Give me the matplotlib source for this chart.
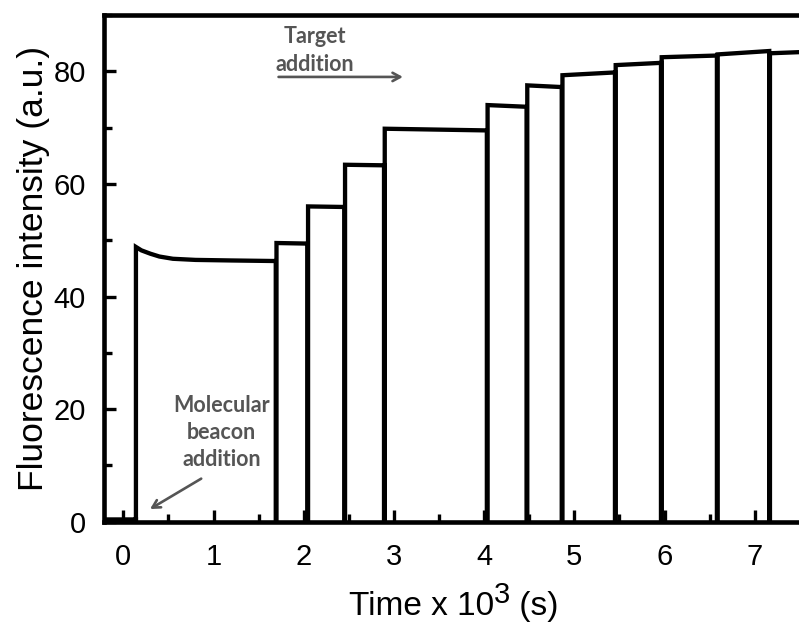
import matplotlib
matplotlib.use("Agg")
import matplotlib.pyplot as plt
from matplotlib.ticker import MultipleLocator

plt.rcParams['font.family'] = ['Liberation Sans', 'DejaVu Sans']

# Data (time in 10^3 s, intensity in a.u.)
baseline_start = -0.21
baseline_level = 0.4
first_decay_t = [0.14, 0.2, 0.3, 0.4, 0.55, 0.8, 1.2, 1.69]
first_decay_y = [48.8, 48.2, 47.6, 47.1, 46.7, 46.5, 46.4, 46.3]
step_times = [1.69, 2.04, 2.45, 2.89, 4.03, 4.47, 4.86, 5.45, 5.96, 6.58, 7.16]
seg_end_times = [2.04, 2.45, 2.89, 4.03, 4.47, 4.86, 5.45, 5.96, 6.58, 7.16, 7.49]
level_start = [49.5, 56.0, 63.4, 69.8, 74.0, 77.5, 79.3, 81.1, 82.5, 83.0, 83.2]
level_end = [49.4, 55.9, 63.3, 69.5, 73.7, 77.2, 79.8, 81.5, 82.8, 83.6, 83.4]

# Build the trace path
t = [baseline_start, first_decay_t[0], first_decay_t[0]]
y = [baseline_level, baseline_level, 0.0]
t += first_decay_t
y += first_decay_y
for ts, te, ys, ye in zip(step_times, seg_end_times, level_start, level_end):
    t += [ts, ts + 0.008, ts + 0.008, te]
    y += [0.0, 0.0, ys, ye]

W, H = 799, 622
fig = plt.figure(figsize=(W / 100, H / 100), dpi=100)
ax = fig.add_axes([104 / W, 1 - 521.7 / H, 1 - 104 / W, (521.7 - 15) / H])
ax.plot(t, y, color='black', lw=3.1, solid_joinstyle='miter')

ax.set_xlim(-0.214, 7.49)
ax.set_ylim(0, 90)
ax.xaxis.set_major_locator(MultipleLocator(1))
ax.xaxis.set_minor_locator(MultipleLocator(0.5))
ax.yaxis.set_major_locator(MultipleLocator(20))
ax.yaxis.set_minor_locator(MultipleLocator(10))
ax.tick_params(which='both', direction='in', top=False, right=False,
               width=2.4, labelsize=21)
ax.tick_params(which='major', length=8.5)
ax.tick_params(which='minor', length=5.5)
ax.tick_params(axis='x', which='major', pad=15)
ax.tick_params(axis='y', which='major', pad=13)
for side in ['left', 'bottom', 'top']:
    ax.spines[side].set_linewidth(3.3)
ax.spines['right'].set_visible(False)

ax.set_ylabel('Fluorescence intensity (a.u.)', fontsize=25.5)
ax.yaxis.set_label_coords(-(104 - 50) / (W - 104), 0.5)

# x label assembled from pieces so the exponent keeps its large size
fig.canvas.draw()
r = fig.canvas.get_renderer()
base_y = 1 - 615 / H
pieces = [('Time x 10', 24, 0), ('3', 21, 12), (' (s)', 24, 0)]
texts = []
for s, fs, dy in pieces:
    tx = fig.text(0, base_y + dy / H, s, fontsize=fs, va='baseline', ha='left')
    texts.append(tx)
widths = [tx.get_window_extent(r).width for tx in texts]
x0 = 454 - sum(widths) / 2
for tx, w in zip(texts, widths):
    tx.set_x(x0 / W)
    x0 += w

grey = '#555555'
ax.text(2.12, 83.7, 'Target\naddition', ha='center', va='center',
        fontsize=15.5, fontweight='bold', color=grey, family='Lato',
        linespacing=1.4)
ax.annotate('', xy=(3.13, 79.0), xytext=(1.69, 79.0),
            arrowprops=dict(arrowstyle='->,head_length=0.55,head_width=0.3',
                            color=grey, lw=1.9))
ax.text(1.09, 15.9, 'Molecular\nbeacon\naddition', ha='center', va='center',
        fontsize=15.5, fontweight='bold', color=grey, family='Lato',
        linespacing=1.35)
ax.annotate('', xy=(0.27, 2.0), xytext=(0.89, 7.9),
            arrowprops=dict(arrowstyle='->,head_length=0.55,head_width=0.3',
                            color=grey, lw=1.9))

fig.savefig('out.png', dpi=100)
